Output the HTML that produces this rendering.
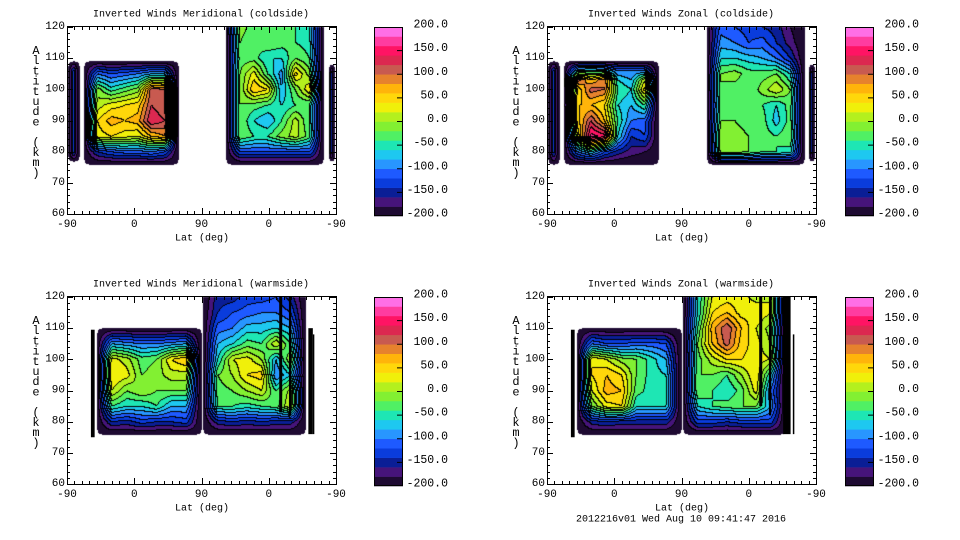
<!DOCTYPE html>
<html><head><meta charset="utf-8">
<style>
html,body{margin:0;padding:0;background:#fff;}
#wrap{position:relative;width:960px;height:540px;overflow:hidden;}
canvas,svg{position:absolute;left:0;top:0;}
text{font-family:"Liberation Mono",monospace;font-size:10px;fill:#000;}
text.tk{font-size:11px;}
text.cbl{font-size:11.5px;}
text.yt{font-size:12px;}
</style></head>
<body>
<div id="wrap">
<canvas id="cv" width="960" height="540"></canvas>
<svg id="sv" width="960" height="540"></svg>
</div>
<script>
// ---------- data ----------
const panelTitles = ["Inverted Winds Meridional (coldside)","Inverted Winds Zonal (coldside)","Inverted Winds Meridional (warmside)","Inverted Winds Zonal (warmside)"];
const xTickLabels = ["-90","0","90","0","-90"];
const yTickLabels = ["60","70","80","90","100","110","120"];
const cbarLabels = ["-200.0","-150.0","-100.0","-50.0","0.0","50.0","100.0","150.0","200.0"];
const footerText = "2012216v01 Wed Aug 10 09:41:47 2016";
const palette = ["#1e0a32","#46147a","#0a1e96","#0a3cdc","#1e5aff","#2896ff","#1ec8f0","#1ee6b4","#50f064","#82f032","#b4f01e","#f0f00a","#ffd70a","#ffb40a","#e6822d","#c85a50","#dc2850","#ff1464","#ff3ca0","#ff6ee6"];

// blocks: lat-path start/end (deg 0..360), altitude rows, values (rows bottom->top)
const tlBlocks = [
 {x0:1.3,x1:16,alts:[77,80,106,109],vals:[[-200,-200,-200],[-200,-130,-200],[-200,-130,-200],[-200,-200,-200]]},
 {x0:22.7,x1:148.5,alts:[76,80,85,90,95,100,105,109],vals:[
  [-200,-200,-200,-200,-200,-200,-200,-200],
  [-200,-140,-120,-110,-110,-100,-120,-200],
  [-200,30,40,30,20,60,80,-200],
  [-200,40,70,60,70,140,120,-200],
  [-200,10,30,40,50,120,100,-200],
  [-200,-10,-50,-30,-10,110,100,-200],
  [-200,-100,-120,-110,-100,-80,-80,-200],
  [-200,-200,-200,-200,-200,-200,-200,-200]]},
 {x0:212.8,x1:342.6,alts:[76,80,85,90,95,100,105,110,115,120],vals:[
  [-200,-200,-200,-200,-200,-200,-200,-200],
  [-200,-120,-120,-120,-120,-120,-120,-200],
  [-200,-20,-40,-40,-10,10,-30,-200],
  [-200,-20,-60,-80,-40,10,-40,-200],
  [-200,-20,-30,-40,-60,-40,-40,-200],
  [-200,-20,60,40,-80,-20,40,-200],
  [-200,-20,30,-40,-90,50,-10,-200],
  [-200,-30,-30,-60,-60,-20,-40,-200],
  [-200,-20,-40,-20,-30,-40,-50,-200],
  [-200,-10,-30,-30,-20,-40,-60,-200]]},
 {x0:350.6,x1:357,alts:[77,80,105,108],vals:[[-200,-200,-200],[-200,-140,-200],[-200,-140,-200],[-200,-200,-200]]}
];
const trBlocks = [
 {x0:1.3,x1:16,alts:[76,80,106,109],vals:[[-200,-200,-200],[-200,-130,-200],[-200,-130,-200],[-200,-200,-200]]},
 {x0:22.7,x1:148.5,alts:[76,80,85,90,95,100,103,106,109],vals:[
  [-200,-200,-200,-200,-200,-200,-200,-200],
  [-200,-100,-60,-120,-150,-170,-180,-200],
  [-200,20,170,150,-60,-140,-120,-200],
  [-200,50,120,60,-40,-100,-110,-200],
  [-200,60,60,40,-60,-80,-40,-200],
  [-200,40,110,100,-40,-60,50,-200],
  [-200,110,60,100,-60,-80,20,-200],
  [-200,-60,-50,-60,-100,-100,-100,-200],
  [-200,-200,-200,-200,-200,-200,-200,-200]]},
 {x0:214,x1:344,alts:[76,80,85,90,95,100,105,110,115,120],vals:[
  [-200,-200,-200,-200,-200,-200,-200,-200],
  [-200,-10,-10,-20,-40,-40,-50,-200],
  [-200,0,-10,-20,-30,-40,-20,-200],
  [-200,-20,-20,-30,-30,-70,-30,-200],
  [-200,-30,-40,-30,-40,-60,-30,-200],
  [-200,-20,-30,-40,-10,20,-20,-200],
  [-200,-20,-10,-30,-30,-20,-60,-200],
  [-200,-60,-60,-70,-80,-100,-140,-200],
  [-200,-90,-100,-120,-110,-140,-170,-200],
  [-200,-110,-120,-130,-140,-150,-180,-200]]},
 {x0:350.6,x1:357,alts:[77,80,105,108],vals:[[-200,-200,-200],[-200,-140,-200],[-200,-140,-200],[-200,-200,-200]]}
];
const blBlocks = [
 {x0:40,x1:179,alts:[76,80,85,90,95,100,105,110],vals:[
  [-200,-200,-200,-200,-200,-200,-200,-200],
  [-200,-140,-150,-130,-140,-140,-130,-200],
  [-200,-40,-60,-60,-40,-80,-80,-200],
  [-200,20,-20,0,-20,-20,-20,-200],
  [-200,40,30,-20,-10,10,10,-200],
  [-200,30,10,-30,-20,40,60,-200],
  [-200,-80,-90,-100,-100,-90,-80,-200],
  [-200,-200,-200,-200,-200,-200,-200,-200]]},
 {x0:182,x1:318.5,alts:[76,80,85,90,95,100,105,110,115,120],vals:[
  [-200,-200,-200,-200,-200,-200,-200,-200],
  [-200,-150,-140,-150,-140,-150,-150,-200],
  [-200,-40,-40,-50,-40,-30,20,-200],
  [-200,-30,-20,0,20,-40,10,-200],
  [-200,-20,0,40,50,-100,-60,-200],
  [-200,-60,20,30,0,-80,0,-200],
  [-200,-80,-60,-30,-40,20,-40,-200],
  [-200,-110,-100,-70,-70,-60,-80,-200],
  [-200,-140,-120,-110,-100,-100,-120,-200],
  [-200,-150,-150,-130,-130,-120,-150,-200]]}
];
const brBlocks = [
 {x0:40,x1:179,alts:[76,80,85,90,95,100,105,110],vals:[
  [-200,-200,-200,-200,-200,-200,-200,-200],
  [-200,-150,-140,-150,-150,-150,-150,-200],
  [-200,-20,30,40,-60,-60,-60,-200],
  [-200,20,70,60,-30,-50,-50,-200],
  [-200,40,60,40,-20,-50,-60,-200],
  [-200,40,20,-10,-20,-50,-80,-200],
  [-200,-100,-120,-120,-110,-110,-120,-200],
  [-200,-200,-200,-200,-200,-200,-200,-200]]},
 {x0:182,x1:318.5,alts:[76,80,85,90,95,100,105,110,115,120],vals:[
  [-200,-200,-200,-200,-200,-200,-200,-200],
  [-200,-130,-130,-140,-130,-130,-130,-200],
  [-200,-60,-40,-30,-20,-20,-80,-200],
  [-200,-20,-40,-60,-30,30,-100,-200],
  [-200,-20,-20,-40,0,40,-60,-200],
  [-200,-30,10,40,40,30,20,-200],
  [-200,-20,60,110,50,30,0,-200],
  [-200,-40,70,120,60,20,-10,-200],
  [-200,-60,40,60,30,40,20,-200],
  [-200,-60,20,30,30,10,20,-200]]}
];
// black data-gap bars: [deg0, deg1, altBottom, altTop]
const tlBars = [];
const trBars = [];
const blBars = [[32,37,75,109.5],[323,329,76,110],[284,288,83,120],[297,300,82,120],[329,331,76,108]];
const brBars = [[32,37,75,109.5],[316,326,76,120],[284,288,85,120],[297,300,82,120],[329,331,76,108]];

const panels = [
 {dx:0,dy:0,cbx:374,blocks:tlBlocks,bars:tlBars,name:"meridional-coldside"},
 {dx:480,dy:0,cbx:845,blocks:trBlocks,bars:trBars,name:"zonal-coldside"},
 {dx:0,dy:270,cbx:374,blocks:blBlocks,bars:blBars,name:"meridional-warmside"},
 {dx:480,dy:270,cbx:845,blocks:brBlocks,bars:brBars,name:"zonal-warmside"}
];

// ---------- rendering ----------
const PX0=67, PX1=336, PY0=27, PY1=214;
function X(p,d){return p.dx+PX0+d*(PX1-PX0)/360;}
function Y(p,a){return p.dy+PY0+(120-a)*(PY1-PY0)/60;}
const NS="http://www.w3.org/2000/svg";
const sv=document.getElementById('sv');
function mk(tag,attrs,parent){const e=document.createElementNS(NS,tag);for(const k in attrs)e.setAttribute(k,attrs[k]);(parent||sv).appendChild(e);return e;}
function txt(x,y,s,anchor,parent,cls){const t=mk('text',{x:x,y:y,'text-anchor':anchor||'middle','dominant-baseline':'central'},parent);if(cls)t.setAttribute('class',cls);t.textContent=s;return t;}

const ctx=document.getElementById('cv').getContext('2d');
const img=ctx.createImageData(960,540);
function hex(c){return [parseInt(c.slice(1,3),16),parseInt(c.slice(3,5),16),parseInt(c.slice(5,7),16)];}
const pal=palette.map(hex);
const band=new Int16Array(960*540).fill(-1);

function sample(b,d,a){
  const nc=b.vals[0].length;
  let fc=(d-b.x0)/(b.x1-b.x0)*(nc-1);
  fc=Math.max(0,Math.min(nc-1.0001,fc));
  let r=0;while(r<b.alts.length-2&&a>b.alts[r+1])r++;
  let fr=(a-b.alts[r])/(b.alts[r+1]-b.alts[r]);fr=Math.max(0,Math.min(1,fr));
  const c=Math.floor(fc),tc=fc-c;
  const v00=b.vals[r][c],v01=b.vals[r][c+1],v10=b.vals[r+1][c],v11=b.vals[r+1][c+1];
  return (v00*(1-tc)+v01*tc)*(1-fr)+(v10*(1-tc)+v11*tc)*fr;
}
panels.forEach(p=>{
  p.blocks.forEach(b=>{
    const xa=Math.round(X(p,b.x0)),xb=Math.round(X(p,b.x1));
    const ya=Math.round(Y(p,b.alts[b.alts.length-1])),yb=Math.round(Y(p,b.alts[0]));
    const topOpen=b.alts[b.alts.length-1]>=120;
    const R=Math.min(5,(xb-xa)/2);
    for(let py=ya;py<=yb;py++)for(let px=xa;px<=xb;px++){
      // rounded corners
      const cx=px<xa+R?xa+R:(px>xb-R?xb-R:px);
      const cyTop=topOpen?py:(py<ya+R?ya+R:py);
      const cy=py>yb-R?yb-R:cyTop;
      if((px-cx)*(px-cx)+(py-cy)*(py-cy)>R*R)continue;
      const d=(px-p.dx-PX0)*360/(PX1-PX0), a=120-(py-p.dy-PY0)*60/(PY1-PY0);
      const v=sample(b,d,a);
      let k=Math.floor((v+200)/20);k=Math.max(0,Math.min(19,k));
      band[py*960+px]=k;
    }
  });
});
for(let y=0;y<540;y++)for(let x=0;x<960;x++){
  const i=y*960+x,k=band[i],o=i*4;
  if(k<0){img.data[o]=255;img.data[o+1]=255;img.data[o+2]=255;img.data[o+3]=255;continue;}
  let line=false;
  if(x<959&&band[i+1]>=0&&band[i+1]!==k)line=true;
  if(y<539&&band[i+960]>=0&&band[i+960]!==k)line=true;
  const c=line?[0,0,0]:pal[k];
  img.data[o]=c[0];img.data[o+1]=c[1];img.data[o+2]=c[2];img.data[o+3]=255;
}
ctx.putImageData(img,0,0);

panels.forEach((p,pi)=>{
  const g=mk('g',{});
  
  
  p.bars.forEach(br=>{
    const r=mk('rect',{x:X(p,br[0]),y:Y(p,br[3]),width:X(p,br[1])-X(p,br[0]),height:Y(p,br[2])-Y(p,br[3]),fill:'#000'},g);
    
    
  });
  const fr=mk('rect',{x:p.dx+PX0+0.5,y:p.dy+PY0-0.5,width:PX1-PX0,height:PY1-PY0+1,fill:'none',stroke:'#000','stroke-width':1},g);
  
  
  for(let d=0;d<=360;d+=10){
    const x=Math.round(X(p,d))+0.5, major=d%90===0, L=major?6:3;
    mk('line',{x1:x,y1:p.dy+PY1,x2:x,y2:p.dy+PY1-L,stroke:'#000'},g);
    mk('line',{x1:x,y1:p.dy+PY0,x2:x,y2:p.dy+PY0+L,stroke:'#000'},g);
  }
  for(let a=60;a<=120;a+=2){
    const y=Math.round(Y(p,a))+0.5, major=a%10===0, L=major?6:3;
    mk('line',{x1:p.dx+PX0,y1:y,x2:p.dx+PX0+L,y2:y,stroke:'#000'},g);
    mk('line',{x1:p.dx+PX1,y1:y,x2:p.dx+PX1-L,y2:y,stroke:'#000'},g);
  }
  const tt=txt(p.dx+201,p.dy+15,panelTitles[pi],'middle',g);
  
  
  xTickLabels.forEach((s,i)=>{const t=txt(X(p,i*90),p.dy+225,s,'middle',g,'tk');
    
    });
  yTickLabels.forEach((s,i)=>{const t=txt(p.dx+65,Y(p,60+i*10),s,'end',g,'tk');
    
    });
  const xt=txt(p.dx+202,p.dy+239,"Lat (deg)",'middle',g);
  
  
  const yg=mk('g',{},g);
  
  
  "Altitude (km)".split('').forEach((ch,i)=>{if(ch!==' ')txt(p.dx+36,p.dy+51+i*10.2,ch,'middle',yg,'yt');});
  const cb=mk('g',{},g);
  
  
  const cy0=p.dy+27,cy1=p.dy+216,bh=(cy1-cy0)/20;
  palette.forEach((c,k)=>{const r=mk('rect',{x:p.cbx,y:cy1-(k+1)*bh,width:29,height:bh+0.3,fill:c},cb);
    
    });
  mk('rect',{x:p.cbx+0.5,y:cy0+0.5,width:28,height:cy1-cy0-1,fill:'none',stroke:'#000'},cb);
  cbarLabels.forEach((s,i)=>{
    const y=cy1-i*(cy1-cy0)/8;
    if(i>0&&i<8)mk('line',{x1:p.cbx+29,y1:y,x2:p.cbx+23,y2:y,stroke:'#000'},cb);
    const t=txt(p.cbx+74,y-2,s,'end',cb,'cbl');
    
    
  });
});
const ft=txt(681,520,footerText,'middle');


</script>
</body></html>
